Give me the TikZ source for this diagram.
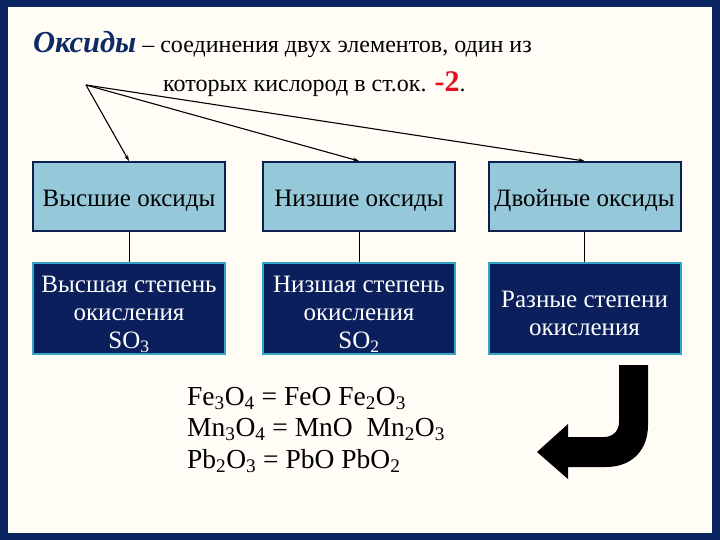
\documentclass[tikz,border=0pt]{standalone}
\usepackage{fontspec}
\setmainfont{Liberation Serif}
\usetikzlibrary{arrows.meta}
\definecolor{frame}{HTML}{0B2462}
\definecolor{paper}{HTML}{FFFDF5}
\definecolor{lightbox}{HTML}{95C8D9}
\definecolor{darkbox}{HTML}{0B1F5C}
\definecolor{boxedge}{HTML}{0E2050}
\definecolor{cyanedge}{HTML}{35A6C6}
\definecolor{titleblue}{HTML}{0E2A66}
\definecolor{minusred}{HTML}{E0101E}
\begin{document}
\begin{tikzpicture}[x=1pt,y=-1pt,
 upper/.style={draw=boxedge, line width=2pt, fill=lightbox, minimum width=192pt, minimum height=69pt, inner sep=0pt},
 lower/.style={draw=cyanedge, line width=2pt, fill=darkbox, minimum width=192pt, minimum height=91pt, inner sep=0pt},
 uppertext/.style={font=\fontsize{25}{28}\selectfont, inner sep=0pt, yshift=-4pt},
 lowertext/.style={text=white, align=center, font=\fontsize{25}{28}\selectfont, inner sep=0pt, yshift=-6pt},
 link/.style={line width=0.9pt},
 pointer/.style={line width=1.1pt, -{Stealth[length=6pt,width=4pt]}},
 plain/.style={inner sep=0pt, anchor=base west}]
\fill[frame] (0,0) rectangle (720,540);
\fill[paper] (8,7) rectangle (712,533);
\useasboundingbox (0,0) rectangle (720,540);

\node[plain] (t1) at (33,53) {{\fontsize{30.5}{32}\selectfont\bfseries\itshape\color{titleblue}Оксиды}{\fontsize{24}{28}\selectfont{} – соединения двух элементов, один из}};
\node[plain] (t2) at (163,92) {\fontsize{24}{28}\selectfont которых кислород в ст.ок. {\color{minusred}\bfseries\fontsize{30}{30}\selectfont -2}.};

\coordinate (hub) at (86,85);

\node[upper] (hi) at (129,196.5) {};
\node[upper] (lo) at (359,196.5) {};
\node[upper] (dbl) at (584.5,196.5) {};
\node[uppertext] (hiT) at (hi) {Высшие оксиды};
\node[uppertext] (loT) at (lo) {Низшие оксиды};
\node[uppertext] (dblT) at (dbl) {Двойные оксиды};

\node[lower] (hiL) at (129,308.5) {};
\node[lower] (loL) at (359,308.5) {};
\node[lower] (dblL) at (584.5,308.5) {};
\node[lowertext] (hiLT) at (hiL) {Высшая степень\\окисления\\SO\textsubscript{3}};
\node[lowertext] (loLT) at (loL) {Низшая степень\\окисления\\SO\textsubscript{2}};
\node[lowertext, yshift=1pt] (dblLT) at (dblL) {Разные степени\\окисления};

\draw[pointer] (hub) -- (hi.north);
\draw[pointer] (hub) -- (lo.north);
\draw[pointer] (hub) -- (dbl.north);

\draw[link] (hi.south) -- (hiL.north);
\draw[link] (lo.south) -- (loL.north);
\draw[link] (dbl.south) -- (dblL.north);

\node[plain, align=left, font=\fontsize{27.5}{31.5}\selectfont] (ex) at (187,468) {Fe\textsubscript{3}O\textsubscript{4} = FeO Fe\textsubscript{2}O\textsubscript{3}\\Mn\textsubscript{3}O\textsubscript{4} = MnO\ \ Mn\textsubscript{2}O\textsubscript{3}\\Pb\textsubscript{2}O\textsubscript{3} = PbO PbO\textsubscript{2}};

\fill[black] (619,365) -- (648,365) -- (648,425) .. controls (648,450) and (632,467) .. (606,467) -- (568,467) -- (568,479) -- (537,452) -- (568,424) -- (568,437) -- (604,437) .. controls (613,437) and (619,431) .. (619,422) -- cycle;
\end{tikzpicture}
\end{document}
